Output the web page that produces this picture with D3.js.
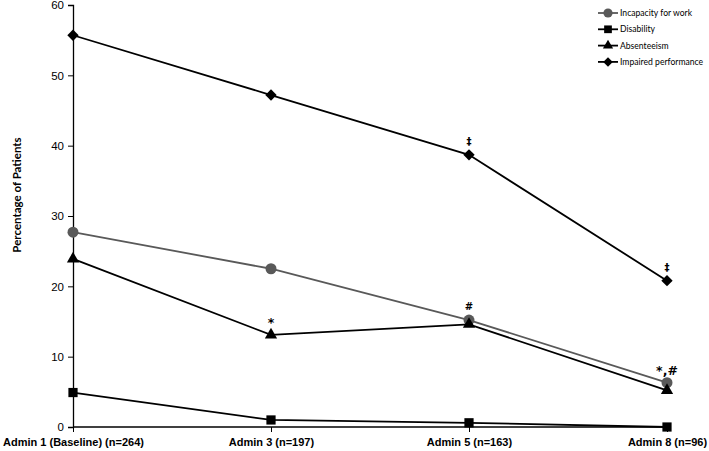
<!DOCTYPE html>
<html><head><meta charset="utf-8">
<script src="https://cdn.jsdelivr.net/npm/d3@7"></script>
<style>body{margin:0;background:#fff}svg{display:block;font-family:Lato,"Open Sans",sans-serif}</style>
</head><body><svg id="c" width="709" height="451"></svg>
<script>
const categories = ["Admin 1 (Baseline) (n=264)", "Admin 3 (n=197)", "Admin 5 (n=163)", "Admin 8 (n=96)"];
const incapacity = [27.7, 22.5, 15.2, 6.3];
const disability = [4.9, 1.0, 0.6, 0.0];
const absenteeism = [23.9, 13.1, 14.6, 5.2];
const impaired = [55.7, 47.2, 38.7, 20.8];
const yTicks = [0, 10, 20, 30, 40, 50, 60];
const annotations = [
  {cat: 1, value: 13.1, text: "*"},
  {cat: 2, value: 15.2, text: "#"},
  {cat: 2, value: 38.7, text: "‡"},
  {cat: 3, value: 20.8, text: "‡"},
  {cat: 3, value: 6.3, text: "*,#"}
];
const series = [
  {name: "Incapacity for work", values: incapacity, shape: d3.symbolCircle, color: "#595959", size: 95, rot: 0},
  {name: "Disability", values: disability, shape: d3.symbolSquare, color: "#000", size: 85, rot: 0},
  {name: "Absenteeism", values: absenteeism, shape: d3.symbolTriangle, color: "#000", size: 65, rot: 0},
  {name: "Impaired performance", values: impaired, shape: d3.symbolSquare, color: "#000", size: 64, rot: 45}
];

const svg = d3.select("#c");
const x = d3.scalePoint().domain(categories).range([73, 667]);
const y = d3.scaleLinear().domain([0, 60]).range([427, 5]);

// y axis
const ya = svg.append("g").attr("transform", "translate(73,0)")
  .call(d3.axisLeft(y).tickValues(yTicks).tickSize(5).tickPadding(4));
ya.selectAll("text").attr("font-size", 11.5).attr("fill", "#000");
ya.select(".domain").attr("stroke", "#000").attr("stroke-width", 1.3);
// x axis
const xa = svg.append("g").attr("transform", "translate(0,427)")
  .call(d3.axisBottom(x).tickSize(5).tickPadding(6));
xa.select(".domain").attr("d", "M73,0H667").attr("stroke-width", 1.3);
xa.selectAll("text").attr("font-size", 11).attr("font-weight", "bold").attr("fill", "#000");

svg.append("text").attr("transform", "translate(21,195) rotate(-90)")
  .attr("text-anchor", "middle").attr("font-size", 11.5).attr("font-weight", "bold")
  .text("Percentage of Patients");

const line = d3.line().x((d, i) => x(categories[i])).y(d => y(d));
series.forEach(s => {
  svg.append("path").attr("d", line(s.values)).attr("fill", "none")
    .attr("stroke", s.color).attr("stroke-width", 1.8);
  svg.selectAll(null).data(s.values).enter().append("path")
    .attr("d", d3.symbol().type(s.shape).size(s.size))
    .attr("transform", (d, i) => `translate(${x(categories[i])},${y(d)}) rotate(${s.rot})`)
    .attr("fill", s.color);
});

annotations.forEach(a => {
  const big = a.text.includes("*");
  svg.append("text").attr("x", x(categories[a.cat])).attr("y", y(a.value) - (big ? 8 : 10))
    .attr("text-anchor", "middle").attr("font-size", big ? 12.5 : 10)
    .attr("font-family", "'DejaVu Sans', sans-serif")
    .attr("font-weight", "bold").attr("fill", "#000").text(a.text);
});

// legend
const lg = svg.append("g");
series.forEach((s, i) => {
  const ly = 13 + i * 16.3;
  lg.append("line").attr("x1", 598).attr("x2", 618).attr("y1", ly).attr("y2", ly)
    .attr("stroke", s.color).attr("stroke-width", 1.8);
  lg.append("path").attr("d", d3.symbol().type(s.shape).size(s.size * 0.7))
    .attr("transform", `translate(608,${ly}) rotate(${s.rot})`).attr("fill", s.color);
  lg.append("text").attr("x", 620).attr("y", ly + 3).attr("font-size", 8.6).text(s.name);
});
</script></body></html>
